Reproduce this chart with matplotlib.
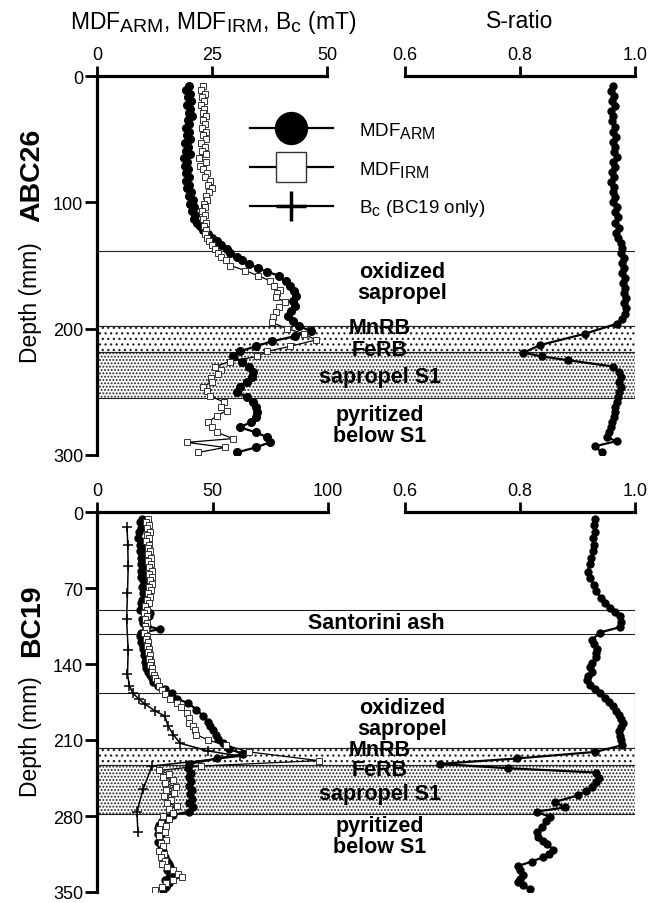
import matplotlib
matplotlib.use("Agg")
import matplotlib.pyplot as plt
from matplotlib.lines import Line2D
try:
    import matplotlib._mathtext as _mt
    _mt.SHRINK_FACTOR = 0.85
except Exception:
    pass

plt.rcParams['font.family'] = ['Liberation Sans', 'DejaVu Sans']
plt.rcParams['mathtext.fontset'] = 'custom'
plt.rcParams['mathtext.rm'] = 'Liberation Sans'
plt.rcParams['mathtext.it'] = 'Liberation Sans:italic'
plt.rcParams['mathtext.bf'] = 'Liberation Sans:bold'
plt.rcParams['mathtext.default'] = 'regular'
plt.rcParams['hatch.linewidth'] = 0.9

# ---------------- ABC26 (top) ----------------
abc_arm_depth = [8, 11, 14, 17, 20, 23, 26, 29, 32, 35, 38, 41, 44, 47, 50, 53, 56, 59, 62, 65,
                 68, 71, 74, 77, 80, 83, 86, 89, 92, 95, 98, 101, 104, 107, 110, 113, 116, 119,
                 122, 125, 128, 131, 134, 137, 140, 143, 146, 149, 152, 155, 158, 162, 166, 170,
                 174, 178, 182, 186, 190, 194, 198, 202, 206, 210, 214, 218, 222, 226, 230, 234,
                 238, 242, 246, 250, 254, 258, 262, 266, 270, 274, 278, 282, 286, 290, 294, 298]
abc_arm = [20.0, 19.4, 20.2, 19.8, 20.4, 19.6, 20.3, 19.9, 20.6, 19.7, 20.1, 19.3, 20.0, 19.5,
           20.2, 19.2, 19.8, 19.4, 20.3, 19.0, 19.6, 19.1, 19.8, 19.3, 19.9, 19.4, 20.1, 19.6,
           20.5, 20.0, 20.8, 20.3, 21.0, 20.7, 21.3, 21.0, 21.8, 22.4, 23.0, 24.2, 25.0, 26.0,
           27.0, 28.2, 29.0, 30.5, 31.5, 33.0, 35.0, 37.0, 39.5, 41.0, 42.0, 42.8, 43.2, 42.6,
           43.0, 42.2, 41.5, 42.5, 44.0, 46.5, 43.0, 38.0, 34.5, 31.0, 29.6, 31.5, 33.0, 34.0,
           33.8, 32.5, 31.0, 30.4, 32.5, 34.0, 34.5, 34.7, 34.6, 33.5, 31.0, 34.5, 37.0, 37.6,
           34.5, 30.4]

abc_irm_depth = [8, 11, 14, 17, 20, 23, 26, 29, 32, 35, 38, 41, 44, 47, 50, 53, 56, 59, 62, 65,
                 68, 71, 74, 77, 80, 83, 86, 89, 92, 95, 98, 101, 104, 107, 110, 113, 116, 119,
                 122, 125, 128, 131, 134, 137, 140, 143, 146, 150, 154, 158, 162, 166, 169, 172,
                 175, 179, 183, 187, 191, 195, 200, 204, 209, 214, 218, 222, 226, 230, 233, 236,
                 239, 242, 246, 249, 253, 258, 262, 265, 269, 274, 278, 282, 287, 290, 294, 298]
abc_irm = [23.0, 22.6, 23.4, 22.8, 23.2, 22.5, 23.3, 23.0, 23.8, 23.1, 23.5, 22.8, 23.6, 23.0,
           23.8, 22.6, 23.4, 22.8, 23.6, 22.2, 23.8, 22.4, 23.0, 24.0, 23.4, 24.6, 24.2, 25.0,
           24.4, 23.6, 24.0, 23.2, 23.5, 22.8, 23.4, 23.0, 23.6, 23.2, 23.8, 23.4, 24.0, 24.3,
           25.0, 25.6, 26.4, 27.0, 28.0, 29.0, 32.2, 35.0, 37.5, 38.5, 39.8, 39.2, 39.0, 40.8,
           39.5, 39.0, 38.2, 38.0, 41.3, 45.0, 47.5, 42.0, 37.0, 34.8, 29.0, 25.6, 27.0, 26.3,
           24.8, 25.0, 23.0, 24.0, 24.5, 27.5, 27.0, 28.2, 26.0, 24.2, 25.0, 26.0, 29.6, 19.5,
           27.8, 22.0]

abc_s_depth = [8, 12, 16, 20, 24, 28, 32, 36, 40, 44, 48, 52, 56, 60, 64, 68, 72, 76, 80, 84,
               88, 92, 96, 100, 104, 108, 112, 116, 120, 124, 128, 132, 136, 140, 144, 148, 152,
               156, 160, 164, 168, 172, 176, 180, 184, 188, 192, 196, 204, 213, 219, 222, 225,
               230, 234, 238, 242, 246, 250, 254, 258, 262, 266, 270, 274, 278, 282, 286, 289,
               293, 298]
abc_s = [0.962, 0.958, 0.963, 0.960, 0.965, 0.958, 0.962, 0.960, 0.966, 0.962, 0.967, 0.961,
         0.965, 0.963, 0.968, 0.962, 0.966, 0.960, 0.964, 0.958, 0.963, 0.961, 0.966, 0.962,
         0.968, 0.965, 0.970, 0.966, 0.972, 0.967, 0.970, 0.975, 0.978, 0.976, 0.980, 0.977,
         0.981, 0.978, 0.982, 0.979, 0.983, 0.980, 0.984, 0.981, 0.984, 0.982, 0.978, 0.969,
         0.913, 0.835, 0.806, 0.838, 0.884, 0.962, 0.972, 0.975, 0.973, 0.976, 0.972, 0.970,
         0.968, 0.966, 0.965, 0.963, 0.960, 0.958, 0.955, 0.951, 0.968, 0.931, 0.942]

# ---------------- BC19 (bottom) ----------------
bc_arm_depth = [6, 9, 12, 15, 18, 24, 27, 30, 33, 36, 39, 42, 45, 48, 51, 54, 57, 60, 63, 66,
                69, 72, 75, 78, 81, 84, 87, 90, 93, 96, 99, 102, 105, 108, 111, 114, 117, 120,
                123, 126, 129, 132, 135, 138, 141, 144, 147, 150, 153, 157, 160, 163, 167, 172,
                176, 182, 188, 193, 197, 201, 205, 209, 213, 218, 223, 227, 232, 236, 240, 244,
                248, 252, 256, 260, 264, 268, 272, 276, 279, 282, 285, 288, 291, 294, 297, 300,
                304, 308, 312, 315, 318, 321, 324, 327, 330, 333, 336, 339, 342, 345, 348]
bc_arm = [19.5, 18.8, 19.6, 19.0, 18.2, 17.8, 19.2, 18.6, 19.4, 18.8, 19.6, 18.9, 19.5, 19.0,
          19.8, 19.2, 19.6, 19.0, 19.8, 20.2, 19.5, 20.4, 19.8, 20.6, 19.6, 19.0, 19.4, 18.8,
          23.0, 22.5, 19.5, 20.0, 21.5, 27.3, 19.0, 18.6, 19.3, 19.0, 19.8, 20.0, 20.6, 20.4,
          21.0, 20.8, 21.3, 21.0, 22.0, 23.0, 23.6, 24.4, 26.5, 29.4, 32.3, 34.5, 39.5, 43.0,
          46.0, 48.0, 49.0, 50.0, 51.5, 52.5, 54.5, 57.0, 63.3, 52.0, 40.0, 39.5, 40.5, 39.8,
          40.8, 40.0, 41.2, 40.2, 41.0, 40.0, 41.6, 40.0, 33.0, 30.3, 28.0, 27.0, 26.6, 28.0,
          26.5, 27.5, 26.6, 27.8, 28.5, 28.7, 29.5, 30.5, 31.0, 31.6, 30.5, 32.5, 31.0, 29.5,
          31.0, 30.0, 28.5]

bc_irm_depth = [6, 9, 12, 15, 18, 21, 24, 27, 30, 33, 36, 39, 42, 45, 48, 51, 54, 57, 60, 63,
                66, 69, 72, 75, 78, 81, 84, 87, 90, 93, 96, 99, 102, 105, 108, 111, 114, 117,
                120, 123, 126, 129, 132, 135, 138, 141, 144, 147, 150, 153, 156, 160, 164, 168,
                172, 176, 180, 185, 190, 194, 197, 201, 205, 210, 215, 221, 229, 234, 238, 241,
                244, 247, 250, 253, 256, 259, 262, 265, 268, 271, 274, 277, 280, 283, 286, 289,
                292, 295, 298, 302, 305, 308, 312, 315, 318, 321, 324, 327, 330, 333, 336, 339,
                342, 345, 348]
bc_irm = [22.0, 21.2, 22.4, 21.6, 22.8, 21.8, 22.5, 21.4, 22.6, 21.9, 23.0, 22.2, 23.4, 22.0,
          23.2, 22.4, 23.6, 22.5, 24.0, 22.8, 23.6, 22.6, 23.2, 22.0, 22.8, 21.6, 22.4, 20.8,
          21.5, 20.5, 21.8, 20.6, 21.5, 20.8, 21.2, 20.5, 21.6, 21.0, 22.0, 21.5, 22.5, 22.0,
          23.0, 22.4, 23.2, 23.0, 23.6, 24.0, 24.5, 25.2, 26.0, 27.0, 28.0, 29.5, 31.5, 34.6,
          36.5, 39.0, 40.0, 40.0, 41.6, 42.5, 43.0, 48.0, 56.0, 66.0, 96.0, 45.0, 27.0, 31.0,
          28.5, 33.0, 29.5, 34.0, 30.0, 33.5, 29.0, 32.0, 30.5, 34.5, 31.0, 33.0, 28.5, 31.0,
          27.5, 30.0, 27.0, 29.5, 27.0, 30.0, 27.5, 28.5, 27.0, 29.0, 27.5, 29.5, 28.0, 30.5,
          33.0, 35.0, 37.0, 33.0, 30.0, 28.0, 25.0]

bc_bc_depth = [14, 30, 50, 75, 99, 127, 149, 160, 167, 172, 177, 183, 188, 197, 205, 213, 220,
               225, 234, 255, 276, 295]
bc_bc = [13.0, 13.3, 13.5, 13.2, 12.8, 13.5, 13.2, 14.0, 15.6, 18.0, 20.8, 25.0, 29.4, 30.7,
         33.0, 36.0, 48.0, 62.0, 23.8, 20.0, 17.3, 17.7]

bc_s_depth = [6, 12, 18, 24, 30, 36, 42, 48, 55, 61, 67, 73, 79, 84, 88, 92, 96, 101, 106, 111,
              118, 122, 126, 130, 134, 139, 143, 147, 151, 155, 159, 163, 167, 171, 175, 179,
              183, 187, 191, 194, 198, 202, 206, 210, 215, 221, 227, 232, 236, 240, 245, 249,
              253, 257, 261, 267, 272, 276, 281, 285, 290, 295, 299, 303, 306, 311, 315, 318,
              322, 326, 330, 334, 338, 341, 344, 347]
bc_s = [0.930, 0.928, 0.931, 0.927, 0.929, 0.927, 0.924, 0.921, 0.918, 0.922, 0.928, 0.933,
        0.940, 0.948, 0.957, 0.966, 0.974, 0.976, 0.974, 0.939, 0.925, 0.928, 0.934, 0.932,
        0.933, 0.925, 0.922, 0.926, 0.919, 0.916, 0.922, 0.930, 0.939, 0.947, 0.954, 0.962,
        0.967, 0.972, 0.976, 0.979, 0.975, 0.972, 0.974, 0.976, 0.977, 0.930, 0.795, 0.660,
        0.779, 0.933, 0.938, 0.932, 0.925, 0.915, 0.901, 0.861, 0.878, 0.829, 0.852, 0.845,
        0.838, 0.829, 0.832, 0.840, 0.847, 0.858, 0.850, 0.840, 0.820, 0.797, 0.800, 0.805,
        0.800, 0.797, 0.805, 0.817]

# layer boundaries (depth, mm)
abc_layers = {'ox': (138.6, 198.0), 'mn': (198.0, 218.5), 'fe': (218.5, 255.0)}
bc_layers = {'ash': (90.0, 112.7), 'ox': (167.0, 217.0), 'mn': (217.0, 233.0), 'fe': (233.0, 278.0)}

abc_mdf_ticks = [0, 25, 50]
bc_mdf_ticks = [0, 50, 100]
s_ticks = [0.6, 0.8, 1.0]
s_ticklabels = ['0.6', '0.8', '1.0']
abc_depth_ticks = [0, 100, 200, 300]
bc_depth_ticks = [0, 70, 140, 210, 280, 350]

W, H = 660, 904
fig = plt.figure(figsize=(W / 100, H / 100), dpi=100)

SPW = 2.3
TICKW = 2.0
LAB = 13
BOLD = 15.5


def fx(px):
    return px / W


def fy(py):
    return 1 - py / H


def make_panel(top_px, bot_px, mdf_max_val, depth_max, mdf_ticks, depth_ticks):
    ax = fig.add_axes([fx(97), fy(bot_px), fx(635 - 97), (bot_px - top_px) / H])
    ax.set_xlim(0, mdf_max_val)
    ax.set_ylim(depth_max, 0)
    ax.patch.set_visible(False)
    axs = ax.twiny()
    # main (MDF) axis: ticks on top
    ax.xaxis.tick_top()
    for s in ['right', 'bottom']:
        ax.spines[s].set_visible(False)
    ax.spines['top'].set_visible(True)
    ax.spines['top'].set_bounds(mdf_ticks[0], mdf_ticks[-1])
    ax.spines['top'].set_linewidth(SPW)
    ax.spines['left'].set_linewidth(SPW)
    ax.set_xticks(mdf_ticks)
    ax.set_xticklabels([str(t) for t in mdf_ticks])
    ax.set_yticks(depth_ticks)
    ax.tick_params(axis='x', direction='out', length=7, width=TICKW, labelsize=LAB, pad=2)
    ax.tick_params(axis='y', direction='out', length=9, width=TICKW, labelsize=LAB, pad=1)
    # S-ratio axis
    xl = 0.6 - (405 - 97) / 575.0
    axs.set_xlim(xl, 1.0)
    for s in ['right', 'bottom', 'left']:
        axs.spines[s].set_visible(False)
    axs.spines['top'].set_bounds(0.6, 1.0)
    axs.spines['top'].set_linewidth(SPW)
    axs.set_xticks(s_ticks)
    axs.set_xticklabels(s_ticklabels)
    axs.tick_params(direction='out', length=7, width=TICKW, labelsize=LAB, pad=2)
    return ax, axs


def layer(ax, lo, hi, hatch=None):
    ax.axhspan(lo, hi, xmin=0, xmax=1, facecolor='white', edgecolor='#222222',
               lw=0.8, hatch=hatch, zorder=0.5)


ARM_KW = dict(color='black', lw=1.6, marker='o', ms=5.5, mfc='black', mec='black', zorder=3)
IRM_KW = dict(color='black', lw=0.9, marker='s', ms=4.5, mfc='white', mec='#333333', mew=0.7, zorder=4)
S_KW = dict(color='black', lw=1.6, marker='o', ms=5, mfc='black', mec='black', zorder=3)

# ---- top panel
ax1, ax1s = make_panel(77, 456, 538 / 4.6, 300, abc_mdf_ticks, abc_depth_ticks)
layer(ax1, *abc_layers['ox'])
layer(ax1, *abc_layers['mn'], hatch='...')
layer(ax1, *abc_layers['fe'], hatch='.....')
ax1.plot(abc_arm, abc_arm_depth, **ARM_KW)
ax1.plot(abc_irm, abc_irm_depth, **IRM_KW)
ax1s.plot(abc_s, abc_s_depth, **S_KW)

handles = [Line2D([], [], color='black', lw=1.6, marker='o', ms=23, mfc='black'),
           Line2D([], [], color='black', lw=1.6, marker='s', ms=22, mfc='white', mec='#333333', mew=1.0),
           Line2D([], [], color='black', lw=1.6, marker='+', ms=22, mew=2.5)]
labels = [r'MDF$_{ARM}$', r'MDF$_{IRM}$', r'B$_{c}$ (BC19 only)']
leg = ax1s.legend(handles, labels, loc='center left', bbox_to_anchor=(fx(250), fy(170)),
                  bbox_transform=fig.transFigure, frameon=False, fontsize=13.5,
                  handlelength=4.4, handletextpad=1.4, labelspacing=1.0, borderpad=0,
                  borderaxespad=0, numpoints=1)

# ---- bottom panel
ax2, ax2s = make_panel(513, 893, 538 / 2.31, 350, bc_mdf_ticks, bc_depth_ticks)
layer(ax2, *bc_layers['ash'])
layer(ax2, *bc_layers['ox'])
layer(ax2, *bc_layers['mn'], hatch='...')
layer(ax2, *bc_layers['fe'], hatch='.....')
ax2.plot(bc_bc, bc_bc_depth, color='black', lw=1.1, marker='+', ms=7, mew=1.1, zorder=2.5)
ax2.plot(bc_arm, bc_arm_depth, **dict(ARM_KW, ms=5))
ax2.plot(bc_irm, bc_irm_depth, **dict(IRM_KW, ms=4))
ax2s.plot(bc_s, bc_s_depth, **S_KW)

# ---- titles and labels
fig.text(fx(213), fy(22), r'MDF$_{ARM}$, MDF$_{IRM}$, B$_{c}$ (mT)', ha='center', va='center',
         fontsize=16.5)
fig.text(fx(520), fy(22), 'S-ratio', ha='center', va='center', fontsize=16.5)

fig.text(fx(32), fy(175), 'ABC26', rotation=90, ha='center', va='center', fontsize=20.5,
         fontweight='bold')
fig.text(fx(30), fy(303), 'Depth (mm)', rotation=90, ha='center', va='center', fontsize=16.5)
fig.text(fx(32), fy(621), 'BC19', rotation=90, ha='center', va='center', fontsize=20.5,
         fontweight='bold')
fig.text(fx(30), fy(737), 'Depth (mm)', rotation=90, ha='center', va='center', fontsize=16.5)

TK = dict(ha='center', va='center', fontsize=BOLD, fontweight='bold', linespacing=1.0, zorder=10)
fig.text(fx(402), fy(283), 'oxidized\nsapropel', **TK)
fig.text(fx(380), fy(329), 'MnRB', **TK)
fig.text(fx(380), fy(350), 'FeRB', **TK)
fig.text(fx(380), fy(377), 'sapropel S1', **TK)
fig.text(fx(380), fy(426), 'pyritized\nbelow S1', **TK)

fig.text(fx(376), fy(624), 'Santorini ash', **TK)
fig.text(fx(402), fy(719), 'oxidized\nsapropel', **TK)
fig.text(fx(380), fy(751), 'MnRB', **TK)
fig.text(fx(380), fy(770), 'FeRB', **TK)
fig.text(fx(380), fy(795), 'sapropel S1', **TK)
fig.text(fx(380), fy(837), 'pyritized\nbelow S1', **TK)

fig.savefig('out.png', dpi=100)
